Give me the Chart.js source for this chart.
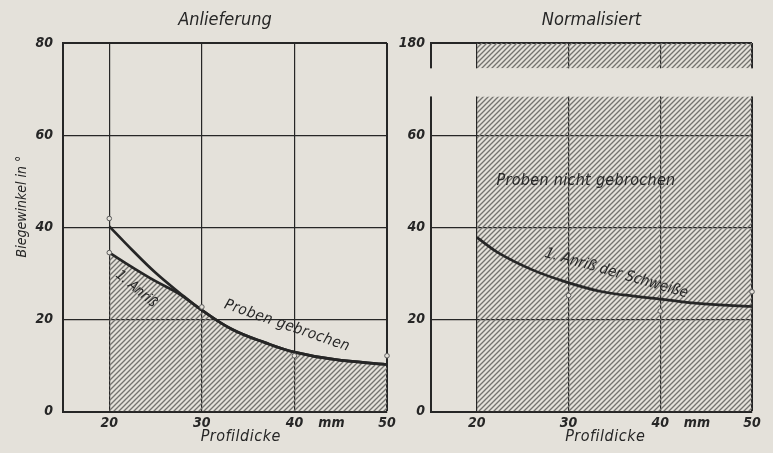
<!DOCTYPE html>
<html><head><meta charset="utf-8">
<script src="https://cdn.jsdelivr.net/npm/chart.js@4.4.0/dist/chart.umd.min.js"></script>
<style>
html,body{margin:0;padding:0;background:#e4e1da;width:773px;height:453px;overflow:hidden}
#l{position:absolute;left:0;top:0}
#r{position:absolute;left:385px;top:0}
</style></head><body>
<canvas id="l" width="400" height="453"></canvas>
<canvas id="r" width="388" height="453"></canvas>
<script>
// ---- tick labels ----
const xTicks = [20, 30, 40, 44, 50];
const xTickLabels = ['20', '30', '40', 'mm', '50'];
const yTicks = [0, 20, 40, 60, 80];
const yTickLabelsLeft = ['0', '20', '40', '60', '80'];
const yTickLabelsRight = ['0', '20', '40', '60', '180'];

// ---- Anlieferung ----
const leftBrokenX = [20, 22.5, 25, 27.5, 30, 33.3, 36.9, 40, 44.3, 50];
const leftBrokenY = [40.2, 35.0, 30.1, 25.9, 22.0, 17.8, 14.9, 12.9, 11.3, 10.2];
const leftCrackX = [20, 22.5, 25, 27.5, 30, 33.3, 36.9, 40, 44.3, 50];
const leftCrackY = [34.5, 31.3, 28.3, 25.6, 22.0, 17.8, 14.9, 12.9, 11.3, 10.2];
const leftPointsX = [20, 20, 30, 40, 50];
const leftPointsY = [41.9, 34.5, 22.7, 12.1, 12.1];

// ---- Normalisiert ----
const rightCrackX = [20, 22.3, 26, 29.6, 33.4, 36, 40, 44.4, 50];
const rightCrackY = [37.8, 34.5, 30.8, 28.2, 26.1, 25.3, 24.4, 23.4, 22.8];
const rightPointsX = [30, 40, 50];
const rightPointsY = [25.2, 21.8, 26.0];
const notBrokenX = [20, 50];
const notBrokenLowTop = [68.4, 68.4];
const notBrokenBandBottom = [74.5, 74.5];
const notBrokenBandTop = [80, 80];
const axisBreak = [68.4, 74.5];

const BG = '#e4e1da';
const INK = '#262626';
const FONT = "'DejaVu Sans Condensed', 'DejaVu Sans', sans-serif";

function xy(xs, ys) { return xs.map((x, i) => ({ x: x, y: ys[i] })); }

function hatchPattern() {
  const c = document.createElement('canvas');
  c.width = 5; c.height = 5;
  const g = c.getContext('2d');
  g.strokeStyle = '#74736f';
  g.lineWidth = 1.35;
  g.beginPath();
  g.moveTo(-1, 6); g.lineTo(6, -1);
  g.moveTo(-1, 1); g.lineTo(1, -1);
  g.moveTo(4, 6); g.lineTo(6, 4);
  g.stroke();
  return g.createPattern(c, 'repeat');
}
const HATCH = hatchPattern();

const textPlugin = {
  id: 'notes',
  afterDatasetsDraw(chart, args, opts) {
    const ctx = chart.ctx, xs = chart.scales.x, ys = chart.scales.y;
    (opts.items || []).forEach(n => {
      ctx.save();
      ctx.font = 'italic ' + (n.weight || 'normal') + ' ' + n.size + 'px ' + FONT;
      ctx.fillStyle = INK;
      ctx.textAlign = 'center';
      ctx.textBaseline = 'middle';
      if (n.spacing) ctx.letterSpacing = n.spacing + 'px';
      const px = n.px !== undefined ? n.px : xs.getPixelForValue(n.x);
      const py = n.dy !== undefined ? chart.chartArea.bottom + n.dy : ys.getPixelForValue(n.y);
      ctx.translate(px, py);
      ctx.rotate(n.angle * Math.PI / 180);
      ctx.fillText(n.text, 0, 0);
      ctx.restore();
    });
  }
};

const breakPlugin = {
  id: 'axisBreak',
  afterDraw(chart, args, opts) {
    if (!opts.range) return;
    const ys = chart.scales.y, a = chart.chartArea, ctx = chart.ctx;
    const yTop = ys.getPixelForValue(opts.range[1]);
    const yBot = ys.getPixelForValue(opts.range[0]);
    ctx.save();
    ctx.fillStyle = BG;
    ctx.fillRect(a.left - 4, yTop, a.width + 8, yBot - yTop);
    ctx.restore();
  }
};

function makeOptions(title, yLabels, yWidth, yPad, rightPad, notes, brk, yz) {
  return {
    responsive: false,
    animation: false,
    events: [],
    layout: { padding: { left: 0, right: rightPad, top: 0, bottom: 0 } },
    plugins: {
      legend: { display: false },
      tooltip: { enabled: false },
      title: {
        display: true, text: title, fullSize: false, color: INK,
        font: { family: FONT, size: 18, style: 'italic', weight: 'normal' },
        padding: { top: 9.5, bottom: 11.9 }
      },
      notes: { items: notes },
      axisBreak: { range: brk }
    },
    scales: {
      x: {
        type: 'linear', min: 15, max: 50,
        afterBuildTicks: s => { s.ticks = xTicks.map(v => ({ value: v })); },
        afterFit: s => { s.height = 41.5; },
        ticks: {
          autoSkip: false, maxRotation: 0, minRotation: 0, padding: 3, color: INK,
          font: { family: FONT, size: 14, style: 'italic', weight: 'bold' },
          callback: (v) => xTickLabels[xTicks.indexOf(v)]
        },
        grid: {
          drawTicks: false,
          color: c => (c.tick && c.tick.value === 44) ? 'rgba(0,0,0,0)' : INK,
          lineWidth: c => (c.tick && c.tick.value === 50) ? 2 : 1.2
        },
        border: { display: true, color: INK, width: 2 }
      },
      y: {
        type: 'linear', min: 0, max: 80, z: yz,
        afterBuildTicks: s => { s.ticks = yTicks.map(v => ({ value: v })); },
        afterFit: s => { s.width = yWidth; },
        ticks: {
          padding: yPad, color: INK,
          font: { family: FONT, size: 14, style: 'italic', weight: 'bold' },
          callback: (v) => yLabels[yTicks.indexOf(v)]
        },
        grid: {
          drawTicks: false, color: INK,
          lineWidth: c => (c.tick && c.tick.value === 80) ? 2 : 1.2
        },
        border: { display: true, color: INK, width: 2 }
      }
    }
  };
}

const lineStyle = { borderColor: INK, borderWidth: 2.7, pointRadius: 0, tension: 0.4 };
const pointStyle = { showLine: false, pointRadius: 2.3, pointBorderWidth: 1, pointBorderColor: '#5a5a5a', pointBackgroundColor: BG, clip: false };

new Chart(document.getElementById('l'), {
  type: 'line',
  data: {
    datasets: [
      Object.assign({ data: xy(leftPointsX, leftPointsY) }, pointStyle),
      Object.assign({ data: xy(leftBrokenX, leftBrokenY), fill: false }, lineStyle),
      Object.assign({ data: xy(leftCrackX, leftCrackY), fill: 'origin', backgroundColor: HATCH }, lineStyle)
    ]
  },
  options: makeOptions('Anlieferung', yTickLabelsLeft, 63, 10, 13, [
    { text: '1. Anriß', x: 22.9, y: 26.6, angle: 40, size: 14 },
    { text: 'Proben gebrochen', x: 39.2, y: 18.6, angle: 19, size: 15, spacing: 0.5 },
    { text: 'Profildicke', x: 34.2, dy: 25.5, angle: 0, size: 16, spacing: 0.5 },
    { text: 'Biegewinkel in °', px: 22, y: 44.5, angle: -90, size: 14 }
  ], null, 0),
  plugins: [textPlugin, breakPlugin]
});

new Chart(document.getElementById('r'), {
  type: 'line',
  data: {
    datasets: [
      Object.assign({ data: xy(rightPointsX, rightPointsY) }, pointStyle),
      Object.assign({ data: xy(rightCrackX, rightCrackY), fill: false }, lineStyle),
      { data: xy(notBrokenX, notBrokenLowTop), fill: 'origin', backgroundColor: HATCH, borderWidth: 0, pointRadius: 0 },
      { data: xy(notBrokenX, notBrokenBandTop), fill: '+1', backgroundColor: HATCH, borderWidth: 0, pointRadius: 0 },
      { data: xy(notBrokenX, notBrokenBandBottom), fill: false, borderWidth: 0, pointRadius: 0 }
    ]
  },
  options: makeOptions('Normalisiert', yTickLabelsRight, 46, 6, 21, [
    { text: 'Proben nicht gebrochen', x: 31.9, y: 50.1, angle: 0, size: 16, spacing: 0.3 },
    { text: '1. Anriß der Schweiße', x: 35.2, y: 30.0, angle: 16, size: 15 },
    { text: 'Profildicke', x: 34.0, dy: 25.5, angle: 0, size: 16, spacing: 0.5 }
  ], axisBreak, 1),
  plugins: [textPlugin, breakPlugin]
});
</script>
</body></html>
